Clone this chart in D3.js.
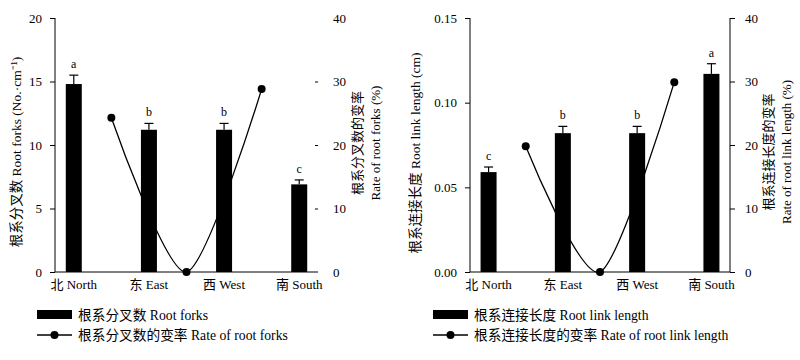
<!DOCTYPE html>
<html>
<head>
<meta charset="utf-8">
<script src="https://cdn.jsdelivr.net/npm/d3@7"></script>
<style>
  body { margin: 0; background: #fff; }
  text { font-family: "Liberation Serif", "Noto Sans CJK SC", serif; fill: #000; }
</style>
</head>
<body>
<svg id="chart" width="800" height="360"></svg>
<script>
var directions = ["北 North", "东 East", "西 West", "南 South"];

// left panel: root forks
var forks = [14.8, 11.2, 11.2, 6.9];
var forks_err = [0.7, 0.5, 0.5, 0.35];
var forks_sig = ["a", "b", "b", "c"];
var forks_rate = [24.3, 0, 28.8];

// right panel: root link length
var link = [0.059, 0.082, 0.082, 0.117];
var link_err = [0.003, 0.004, 0.004, 0.006];
var link_sig = ["c", "b", "b", "a"];
var link_rate = [19.8, 0, 29.9];

var rate_ticks = [0, 10, 20, 30, 40];

var svg = d3.select("#chart");
var top_y = 18, bottom_y = 272;

function panel(opt) {
  var g = svg.append("g");
  var x = d3.scalePoint().domain(directions).range([opt.left, opt.right]).padding(0.25);
  var y = d3.scaleLinear().domain([0, opt.ymax]).range([bottom_y, top_y]);
  var y2 = d3.scaleLinear().domain([0, 40]).range([bottom_y, top_y]);
  var bar_w = 16;

  // left axis
  var ax = g.append("g")
    .attr("transform", "translate(" + opt.left + ",0)")
    .call(d3.axisLeft(y).tickValues(opt.yticks).tickFormat(opt.fmt).tickSize(5).tickPadding(8));
  ax.selectAll("path, line").attr("stroke", "#000");
  ax.selectAll("text").style("font-size", "13px").attr("font-family", null);
  ax.select(".domain").attr("d", "M0," + top_y + "V" + bottom_y);

  // right axis
  var ax2 = g.append("g")
    .attr("transform", "translate(" + opt.right + ",0)")
    .call(d3.axisRight(y2).tickValues(rate_ticks).tickSize(opt.rightLine ? 5 : 0).tickPadding(opt.rightLine ? 10 : 15));
  ax2.selectAll("path, line").attr("stroke", "#000");
  ax2.selectAll("text").style("font-size", "13px").attr("font-family", null);
  if (opt.rightLine) {
    ax2.select(".domain").attr("d", "M0," + top_y + "V" + bottom_y);
  } else {
    ax2.select(".domain").remove();
    ax2.selectAll(".tick line").attr("x1", -3).attr("x2", 0);
    ax2.selectAll(".tick").filter(function(d) { return d == 0 || d == 40; }).select("line").remove();
  }

  // rate line (drawn behind the bars)
  var mids = [0, 1, 2].map(function(i) { return (x(directions[i]) + x(directions[i + 1])) / 2; });
  var line = d3.line()
    .x(function(d, i) { return mids[i]; })
    .y(function(d) { return y2(d); })
    .curve(d3.curveCardinal.tension(0.2));
  g.append("path").datum(opt.rate)
    .attr("d", line).attr("fill", "none").attr("stroke", "#000").attr("stroke-width", 1.3);
  g.selectAll(".dot").data(opt.rate).enter().append("circle")
    .attr("cx", function(d, i) { return mids[i]; })
    .attr("cy", function(d) { return y2(d); })
    .attr("r", 4).attr("fill", "#000");

  // bars
  g.selectAll(".bar").data(opt.values).enter().append("rect")
    .attr("x", function(d, i) { return x(directions[i]) - bar_w / 2; })
    .attr("y", function(d) { return y(d); })
    .attr("width", bar_w)
    .attr("height", function(d) { return bottom_y - y(d); })
    .attr("fill", "#000");

  // error bars + significance letters
  opt.values.forEach(function(v, i) {
    var cx = x(directions[i]);
    var yt = y(v + opt.err[i]);
    g.append("line").attr("x1", cx).attr("x2", cx).attr("y1", y(v)).attr("y2", yt).attr("stroke", "#000").attr("stroke-width", 1.2);
    g.append("line").attr("x1", cx - 4.5).attr("x2", cx + 4.5).attr("y1", yt).attr("y2", yt).attr("stroke", "#000").attr("stroke-width", 1.2);
    g.append("text").attr("x", cx).attr("y", yt - 7).attr("text-anchor", "middle")
      .style("font-size", "12px").text(opt.sig[i]);
  });

  // bottom axis
  g.append("line").attr("x1", opt.left).attr("x2", opt.right).attr("y1", bottom_y).attr("y2", bottom_y)
    .attr("stroke", "#000");
  g.selectAll(".xl").data(directions).enter().append("text")
    .attr("x", function(d) { return x(d); })
    .attr("y", bottom_y + 17)
    .attr("text-anchor", "middle")
    .style("font-size", "13px")
    .text(function(d) { return d; });

  // axis titles
  g.append("text").attr("transform", "translate(" + opt.ltx + "," + opt.lty + ") rotate(-90)")
    .attr("text-anchor", "middle").attr("dy", "0.35em").style("font-size", "13.5px").text(opt.ltitle);
  opt.rtitle.forEach(function(t, k) {
    g.append("text").attr("transform", "translate(" + (opt.rtx + k * 18) + "," + opt.rty + ") rotate(-90)")
      .attr("text-anchor", "middle").attr("dy", "0.35em").style("font-size", "13px").text(t);
  });

  // legend
  var lg = g.append("g");
  lg.append("rect").attr("x", opt.legx).attr("y", 310).attr("width", 35).attr("height", 9).attr("fill", "#000");
  lg.append("text").attr("x", opt.legx + 41).attr("y", 315).attr("dy", "0.35em").style("font-size", "13.7px").text(opt.leg[0]);
  lg.append("line").attr("x1", opt.legx).attr("x2", opt.legx + 35).attr("y1", 335).attr("y2", 335).attr("stroke", "#000").attr("stroke-width", 1.3);
  lg.append("circle").attr("cx", opt.legx + 17.5).attr("cy", 335).attr("r", 4).attr("fill", "#000");
  lg.append("text").attr("x", opt.legx + 41).attr("y", 335).attr("dy", "0.35em").style("font-size", "13.7px").text(opt.leg[1]);
}

panel({
  left: 55, right: 318, ymax: 20, yticks: [0, 5, 10, 15, 20], fmt: d3.format("d"),
  values: forks, err: forks_err, sig: forks_sig, rate: forks_rate, rightLine: false,
  ltitle: "根系分叉数 Root forks (No.·cm⁻¹)", ltx: 16, lty: 152,
  rtitle: ["根系分叉数的变率", "Rate of root forks (%)"], rtx: 357, rty: 143,
  leg: ["根系分叉数 Root forks", "根系分叉数的变率 Rate of root forks"], legx: 37
});

panel({
  left: 470, right: 730, ymax: 0.15, yticks: [0, 0.05, 0.10, 0.15], fmt: d3.format(".2f"),
  values: link, err: link_err, sig: link_sig, rate: link_rate, rightLine: true,
  ltitle: "根系连接长度 Root link length (cm)", ltx: 415, lty: 153,
  rtitle: ["根系连接长度的变率", "Rate of root link length (%)"], rtx: 768, rty: 152,
  leg: ["根系连接长度 Root link length", "根系连接长度的变率 Rate of root link length"], legx: 433
});
</script>
</body>
</html>
